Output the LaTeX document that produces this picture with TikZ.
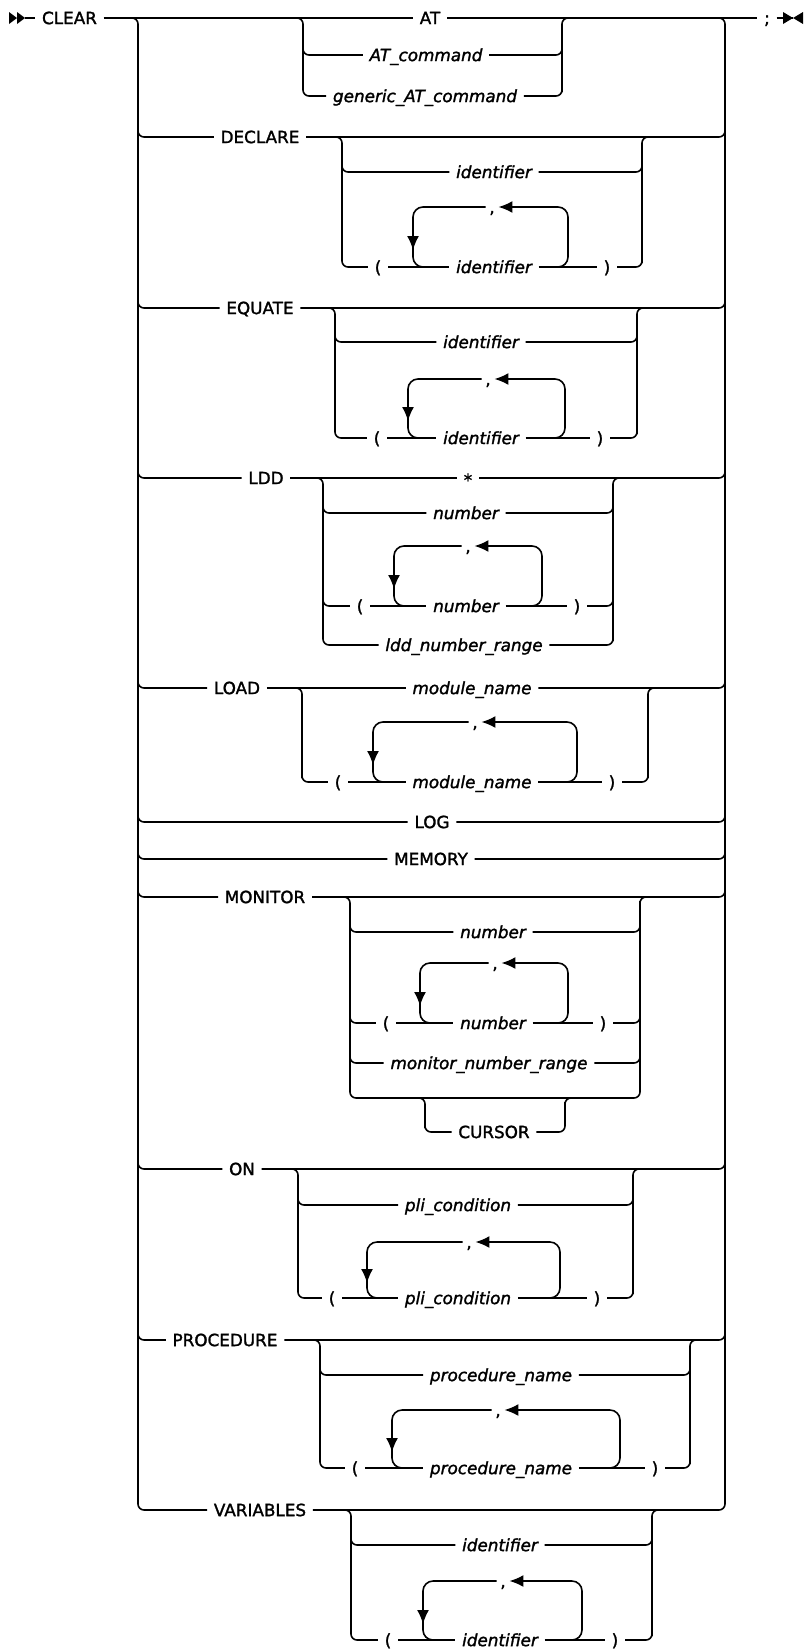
\documentclass[tikz,border=0pt]{standalone}
\usepackage{fontspec}
\setmainfont{DejaVu Sans}[FakeBold=1.6]
\usepackage{tikz}
\usetikzlibrary{arrows.meta}

\begin{document}
\begin{tikzpicture}[x=0.5pt, y=-0.5pt, line width=0.8pt,
  font=\fontsize{8.4}{10}\selectfont,
  txt/.style={inner xsep=3pt, inner ysep=0pt, text height=6.1pt, text depth=0pt},
  kw/.style={txt},
  var/.style={txt, font=\fontsize{8.4}{10}\selectfont\itshape},
  sep/.style={txt, inner xsep=1.5pt},
  rail/.style={rounded corners=3pt},
  loop/.style={rounded corners=5pt},
  back/.style={loop, -{Latex[length=7pt,width=6pt]}}]

  \useasboundingbox (0,0) rectangle (806,1649);

  % Start, main line and end
  \fill (9,12) -- (17,18) -- (9,24) -- cycle;
  \fill (17,12) -- (25,18) -- (17,24) -- cycle;
  \node[kw] (clear) at (69.5,18) {CLEAR};
  \node[kw] (at) at (430,18) {AT};
  \node[kw] (semi) at (767,18) {;};
  \draw (25,18) -- (clear.west);
  \draw (clear.east) -- (at.west);
  \draw (at.east) -- (semi.west);
  \draw (semi.east) -- (793,18);
  \fill (783,12) -- (793,18) -- (783,24) -- cycle;
  \fill (803,12) -- (793,18) -- (803,24) -- cycle;

  % Main rails
  \draw[rail] (128,18) -| (138,1500);
  \draw[rail] (715,18) -| (725,1500);

  % AT
  \node[var] (atcmd) at (426,55) {AT\_command};
  \node[var] (genat) at (425,96) {generic\_AT\_command};
  \draw[rail] (293,18) -| (303,86);
  \draw[rail] (303,45) |- (atcmd.west);
  \draw[rail] (303,86) |- (genat.west);
  \draw[rail] (atcmd.east) -| (562,45);
  \draw[rail] (genat.east) -| (562,86) |- (572,18);

  % DECLARE
  \node[kw] (decl) at (260,137) {DECLARE};
  \draw[rail] (138,127) |- (decl.west);
  \draw[rail] (decl.east) -| (725,127);
  \node[var] (declid) at (494,172) {identifier};
  \node[kw] (declop) at (378,267) {(};
  \node[var] (declid2) at (494,267) {identifier};
  \node[kw] (declcp) at (607,267) {)};
  \node[sep] (declcm) at (492,207) {,};
  \draw[rail] (332,137) -| (342,257);
  \draw[rail] (342,162) |- (declid.west);
  \draw[rail] (342,257) |- (declop.west);
  \draw[rail] (declid.east) -| (642,162);
  \draw[rail] (declcp.east) -| (642,257) |- (652,137);
  \draw (declop.east) -- (declid2.west);
  \draw (declid2.east) -- (declcp.west);
  \draw[back] (548,267) -| (568,207) -- (declcm.east);
  \draw[back] (declcm.west) -| (413,250);
  \draw[loop] (413,240) |- (428,267);

  % EQUATE
  \node[kw] (equ) at (260,308) {EQUATE};
  \draw[rail] (138,298) |- (equ.west);
  \draw[rail] (equ.east) -| (725,298);
  \node[var] (equid) at (481,342) {identifier};
  \node[kw] (equop) at (377,438) {(};
  \node[var] (equid2) at (481,438) {identifier};
  \node[kw] (equcp) at (600,438) {)};
  \node[sep] (equcm) at (488,379) {,};
  \draw[rail] (325,308) -| (335,428);
  \draw[rail] (335,332) |- (equid.west);
  \draw[rail] (335,428) |- (equop.west);
  \draw[rail] (equid.east) -| (637,332);
  \draw[rail] (equcp.east) -| (637,428) |- (647,308);
  \draw (equop.east) -- (equid2.west);
  \draw (equid2.east) -- (equcp.west);
  \draw[back] (545,438) -| (565,379) -- (equcm.east);
  \draw[back] (equcm.west) -| (408,421);
  \draw[loop] (408,410) |- (423,438);

  % LDD
  \node[kw] (ldd) at (266,478) {LDD};
  \node[kw] (lddst) at (468,480) {*};
  \draw[rail] (138,468) |- (ldd.west);
  \draw (ldd.east) -- (lddst.west |- ldd.east);
  \draw[rail] (lddst.east |- ldd.east) -| (725,468);
  \node[var] (lddnum) at (466,513) {number};
  \node[kw] (lddop) at (360,606) {(};
  \node[var] (lddnum2) at (466,606) {number};
  \node[kw] (lddcp) at (577,606) {)};
  \node[sep] (lddcm) at (468,546) {,};
  \node[var] (lddrng) at (464,645) {ldd\_number\_range};
  \draw[rail] (313,478) -| (323,635);
  \draw[rail] (323,503) |- (lddnum.west);
  \draw[rail] (323,596) |- (lddop.west);
  \draw[rail] (323,635) |- (lddrng.west);
  \draw[rail] (lddnum.east) -| (613,503);
  \draw[rail] (lddcp.east) -| (613,596);
  \draw[rail] (lddrng.east) -| (613,635) |- (623,478);
  \draw (lddop.east) -- (lddnum2.west);
  \draw (lddnum2.east) -- (lddcp.west);
  \draw[back] (522,606) -| (542,546) -- (lddcm.east);
  \draw[back] (lddcm.west) -| (394,589);
  \draw[loop] (394,578) |- (409,606);

  % LOAD
  \node[kw] (load) at (237,688) {LOAD};
  \node[var] (loadmod) at (472,688) {module\_name};
  \draw[rail] (138,678) |- (load.west);
  \draw (load.east) -- (loadmod.west);
  \draw[rail] (loadmod.east) -| (725,678);
  \node[kw] (loadop) at (338,782) {(};
  \node[var] (loadmod2) at (472,782) {module\_name};
  \node[kw] (loadcp) at (612,782) {)};
  \node[sep] (loadcm) at (475,722) {,};
  \draw[rail] (292,688) -| (302,772) |- (loadop.west);
  \draw[rail] (loadcp.east) -| (648,772) |- (658,688);
  \draw (loadop.east) -- (loadmod2.west);
  \draw (loadmod2.east) -- (loadcp.west);
  \draw[back] (557,782) -| (577,722) -- (loadcm.east);
  \draw[back] (loadcm.west) -| (373,765);
  \draw[loop] (373,755) |- (388,782);

  % LOG, MEMORY
  \node[kw] (log) at (432,822) {LOG};
  \draw[rail] (138,812) |- (log.west);
  \draw[rail] (log.east) -| (725,812);
  \node[kw] (mem) at (431,859) {MEMORY};
  \draw[rail] (138,849) |- (mem.west);
  \draw[rail] (mem.east) -| (725,849);

  % MONITOR
  \node[kw] (mon) at (265,897) {MONITOR};
  \draw[rail] (138,887) |- (mon.west);
  \draw[rail] (mon.east) -| (725,887);
  \node[var] (monnum) at (493,932) {number};
  \node[kw] (monop) at (386,1023) {(};
  \node[var] (monnum2) at (493,1023) {number};
  \node[kw] (moncp) at (603,1023) {)};
  \node[sep] (moncm) at (495,963) {,};
  \node[var] (monrng) at (489,1063) {monitor\_number\_range};
  \node[kw] (cursor) at (494,1132) {CURSOR};
  \draw[rail] (340,897) -| (350,1088);
  \draw[rail] (350,922) |- (monnum.west);
  \draw[rail] (350,1013) |- (monop.west);
  \draw[rail] (350,1053) |- (monrng.west);
  \draw[rail] (350,1088) |- (640,1098) -- (640,907) |- (650,897);
  \draw[rail] (monnum.east) -| (640,922);
  \draw[rail] (moncp.east) -| (640,1013);
  \draw[rail] (monrng.east) -| (640,1053);
  \draw[rail] (415,1098) -| (425,1122) |- (cursor.west);
  \draw[rail] (cursor.east) -| (565,1108) |- (575,1098);
  \draw (monop.east) -- (monnum2.west);
  \draw (monnum2.east) -- (moncp.west);
  \draw[back] (548,1023) -| (568,963) -- (moncm.east);
  \draw[back] (moncm.west) -| (420,1006);
  \draw[loop] (420,996) |- (435,1023);

  % ON
  \node[kw] (on) at (242,1169) {ON};
  \draw[rail] (138,1159) |- (on.west);
  \draw[rail] (on.east) -| (725,1159);
  \node[var] (onpli) at (458,1205) {pli\_condition};
  \node[kw] (onop) at (332,1298) {(};
  \node[var] (onpli2) at (458,1298) {pli\_condition};
  \node[kw] (oncp) at (597,1298) {)};
  \node[sep] (oncm) at (469,1242) {,};
  \draw[rail] (288,1169) -| (298,1288);
  \draw[rail] (298,1195) |- (onpli.west);
  \draw[rail] (298,1288) |- (onop.west);
  \draw[rail] (onpli.east) -| (633,1195);
  \draw[rail] (oncp.east) -| (633,1288) |- (643,1169);
  \draw (onop.east) -- (onpli2.west);
  \draw (onpli2.east) -- (oncp.west);
  \draw[back] (540,1298) -| (560,1242) -- (oncm.east);
  \draw[back] (oncm.west) -| (367,1283);
  \draw[loop] (367,1273) |- (382,1298);

  % PROCEDURE
  \node[kw] (proc) at (225,1340) {PROCEDURE};
  \draw[rail] (138,1330) |- (proc.west);
  \draw[rail] (proc.east) -| (725,1330);
  \node[var] (procnm) at (501,1375) {procedure\_name};
  \node[kw] (procop) at (355,1468) {(};
  \node[var] (procnm2) at (501,1468) {procedure\_name};
  \node[kw] (proccp) at (655,1468) {)};
  \node[sep] (proccm) at (498,1410) {,};
  \draw[rail] (310,1340) -| (320,1458);
  \draw[rail] (320,1365) |- (procnm.west);
  \draw[rail] (320,1458) |- (procop.west);
  \draw[rail] (procnm.east) -| (690,1365);
  \draw[rail] (proccp.east) -| (690,1458) |- (700,1340);
  \draw (procop.east) -- (procnm2.west);
  \draw (procnm2.east) -- (proccp.west);
  \draw[back] (600,1468) -| (620,1410) -- (proccm.east);
  \draw[back] (proccm.west) -| (392,1452);
  \draw[loop] (392,1442) |- (407,1468);

  % VARIABLES
  \node[kw] (vars) at (260,1510) {VARIABLES};
  \draw[rail] (138,1500) |- (vars.west);
  \draw[rail] (vars.east) -| (725,1500);
  \node[var] (varid) at (500,1545) {identifier};
  \node[kw] (varop) at (388,1640) {(};
  \node[var] (varid2) at (500,1640) {identifier};
  \node[kw] (varcp) at (615,1640) {)};
  \node[sep] (varcm) at (503,1581) {,};
  \draw[rail] (341,1510) -| (351,1630);
  \draw[rail] (351,1535) |- (varid.west);
  \draw[rail] (351,1630) |- (varop.west);
  \draw[rail] (varid.east) -| (652,1535);
  \draw[rail] (varcp.east) -| (652,1630) |- (662,1510);
  \draw (varop.east) -- (varid2.west);
  \draw (varid2.east) -- (varcp.west);
  \draw[back] (562,1640) -| (582,1581) -- (varcm.east);
  \draw[back] (varcm.west) -| (423,1624);
  \draw[loop] (423,1614) |- (438,1640);

\end{tikzpicture}
\end{document}
